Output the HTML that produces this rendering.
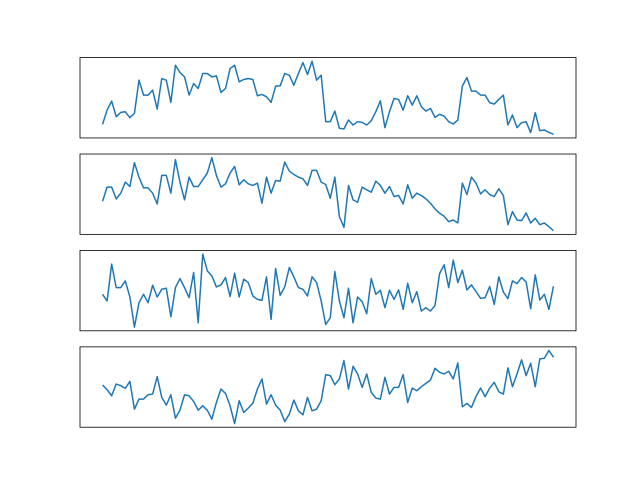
<!DOCTYPE html>
<html><head><meta charset="utf-8"><style>body{margin:0;background:#fff}svg{display:block}</style></head>
<body>
<svg id="fig" width="640" height="480" xmlns="http://www.w3.org/2000/svg">
<rect width="640" height="480" fill="#fff"/>
</svg>
<script>
const series1 = [208,165,138,185,172,170,188,175,75,120,120,105,162,70,75,142,30,52,65,120,85,100,55,55,65,62,112,100,40,30,80,73,70,73,122,118,125,142,93,92,55,60,90,55,22,58,18,75,60,200,200,168,220,222,195,210,200,202,210,197,170,137,218,170,130,133,165,122,150,122,155,168,160,187,178,183,200,207,195,93,67,108,108,120,120,143,147,133,120,210,180,218,203,200,233,173,227,225,232,238].map(v=>(250-v)/10);
const series2 = [152,110,110,145,128,95,108,37,80,112,112,128,160,75,75,128,28,95,148,80,108,108,88,68,22,75,110,100,68,48,103,88,100,105,98,158,80,128,90,92,35,62,72,80,85,105,60,60,95,102,143,80,198,230,105,148,155,110,118,125,92,105,128,108,138,135,160,103,143,128,135,145,158,175,188,197,213,208,217,98,132,80,98,130,118,132,138,115,135,222,183,208,210,187,217,203,222,217,228,240].map(v=>(250-v)/10);
const series3 = [140,160,50,120,120,100,148,238,165,140,165,113,148,125,122,207,120,93,120,150,75,225,20,70,85,118,112,90,147,77,148,95,105,145,155,158,88,215,63,143,118,60,88,120,125,145,88,105,160,230,210,72,160,210,122,225,148,162,198,93,140,128,180,128,155,127,185,107,165,132,190,180,190,173,78,52,120,38,105,68,127,112,132,152,150,117,170,88,133,153,100,108,90,103,183,82,157,140,185,116].map(v=>(250-v)/10);
const series4 = [123,137,155,120,125,133,112,195,165,165,152,150,98,160,183,152,222,198,152,155,172,198,185,198,225,175,135,148,185,238,170,205,192,177,135,105,180,152,183,198,232,210,168,200,212,160,200,195,170,92,95,122,105,50,135,67,90,130,90,145,162,165,100,150,130,130,92,175,132,140,128,118,108,73,85,90,82,105,57,188,178,190,157,132,158,132,115,143,150,72,128,90,48,95,58,128,45,43,20,40].map(v=>(250-v)/10);
const allSeries = [series1, series2, series3, series4];

const svg = document.getElementById('fig');
const NS = 'http://www.w3.org/2000/svg';
const axL = 80, axW = 496, axH = 80.35, gap = 16.07, top0 = 57.6;
allSeries.forEach((data, k) => {
  const y0 = top0 + k * (axH + gap);
  const n = data.length;
  const mn = Math.min(...data), mx = Math.max(...data);
  const pad = (mx - mn) * 0.05;
  const xPad = (n - 1) * 0.05;
  const xs = i => axL + (i + xPad) / ((n - 1) + 2 * xPad) * axW;
  const ys = v => y0 + axH - (v - mn + pad) / (mx - mn + 2 * pad) * axH;
  const g = document.createElementNS(NS, 'g');
  
  
  const line = document.createElementNS(NS, 'polyline');
  
  
  line.setAttribute('points', data.map((v, i) => xs(i).toFixed(2) + ',' + ys(v).toFixed(2)).join(' '));
  line.setAttribute('fill', 'none');
  line.setAttribute('stroke', '#1f77b4');
  line.setAttribute('stroke-width', '1.5');
  line.setAttribute('stroke-linejoin', 'round');
  g.appendChild(line);
  const frame = document.createElementNS(NS, 'rect');
  
  
  frame.setAttribute('x', axL);
  frame.setAttribute('y', y0);
  frame.setAttribute('width', axW);
  frame.setAttribute('height', axH);
  frame.setAttribute('fill', 'none');
  frame.setAttribute('stroke', '#000');
  frame.setAttribute('stroke-width', '0.8');
  g.appendChild(frame);
  svg.appendChild(g);
});
</script>
</body></html>
